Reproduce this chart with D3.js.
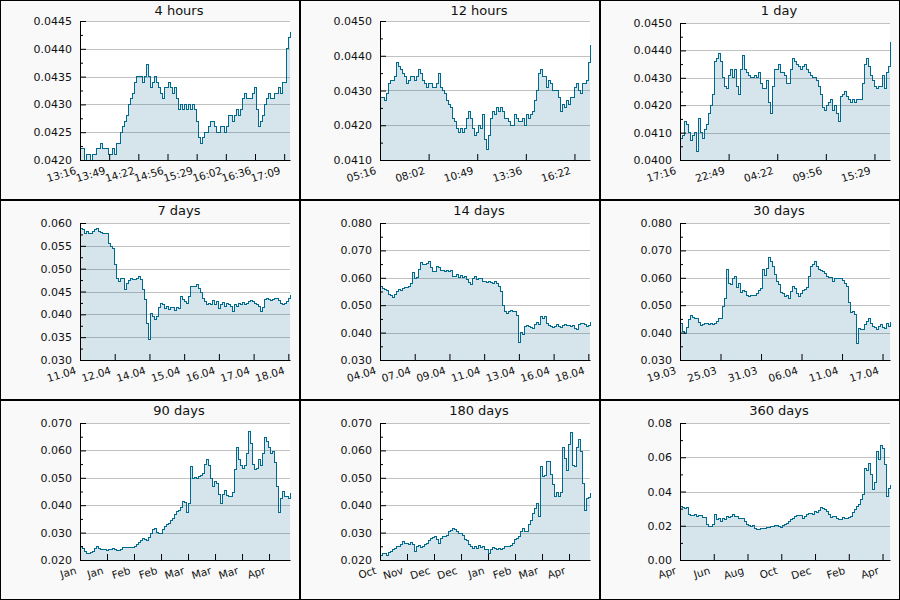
<!DOCTYPE html>
<html><head><meta charset="utf-8">
<script src="https://cdn.jsdelivr.net/npm/d3@7"></script>
<style>
body{margin:0;background:#fff}
svg{display:block}
text{font-family:"DejaVu Sans",sans-serif;fill:#111}
</style>
</head><body>
<svg id="chart" width="900" height="600"></svg>
<script>
const titles = ["4 hours","12 hours","1 day","7 days","14 days","30 days","90 days","180 days","360 days"];
const spanSeconds = [14400, 43200, 86400, 604800, 1209600, 2592000, 7776000, 15552000, 31104000];
const tickStepSeconds = [2000, 10000, 20000, 100000, 200000, 500000, 1000000, 2000000, 5000000];
const xTickLabels = [
 ["13:16","13:49","14:22","14:56","15:29","16:02","16:36","17:09"],
 ["05:16","08:02","10:49","13:36","16:22"],
 ["17:16","22:49","04:22","09:56","15:29"],
 ["11.04","12.04","14.04","15.04","16.04","17.04","18.04"],
 ["04.04","07.04","09.04","11.04","13.04","16.04","18.04"],
 ["19.03","25.03","31.03","06.04","11.04","17.04"],
 ["Jan","Jan","Feb","Feb","Mar","Mar","Mar","Apr"],
 ["Oct","Nov","Dec","Dec","Jan","Feb","Mar","Apr"],
 ["Apr","Jun","Aug","Oct","Dec","Feb","Apr"]
];
const yMin = [0.0420,0.0410,0.0400,0.030,0.030,0.030,0.020,0.020,0.00];
const yMax = [0.0445,0.0450,0.0450,0.060,0.080,0.080,0.070,0.070,0.08];
const yStep = [0.0005,0.001,0.001,0.005,0.010,0.010,0.010,0.010,0.02];
const yDecimals = [4,4,4,3,3,3,3,3,2];

const s4h = [0.0422,0.0422,0.0420,0.0421,0.0421,0.0420,0.0421,0.0421,0.0422,0.0422,
0.0423,0.0422,0.0422,0.0422,0.0421,0.0421,0.0422,0.0421,0.0423,0.0423,
0.0425,0.0426,0.0427,0.0428,0.0430,0.0431,0.0432,0.0434,0.0435,0.0435,
0.0435,0.0434,0.0435,0.04372,0.0435,0.0433,0.0434,0.0435,0.0434,0.0433,
0.0432,0.0431,0.0433,0.0433,0.0434,0.0433,0.0432,0.0433,0.0431,0.0429,
0.0430,0.0429,0.0430,0.0429,0.0430,0.0429,0.0430,0.0429,0.0427,0.0424,
0.0423,0.0424,0.0425,0.0425,0.0426,0.0427,0.0427,0.0426,0.0425,0.0425,
0.0426,0.0426,0.0425,0.0426,0.0428,0.0428,0.0427,0.0428,0.0429,0.0428,
0.0429,0.0431,0.0432,0.0431,0.0431,0.0431,0.0432,0.0433,0.0429,0.0426,
0.0427,0.0428,0.0430,0.0431,0.0432,0.0431,0.0431,0.0432,0.0432,0.0433,
0.0432,0.0434,0.0434,0.0440,0.0442,0.0443];

const s12h = [0.0428,0.0428,0.0427,0.0429,0.0432,0.0433,0.0433,0.0434,0.0438,0.0437,
0.0436,0.0435,0.0434,0.0432,0.0433,0.0434,0.0434,0.0433,0.0434,0.0436,
0.0435,0.0433,0.0432,0.0431,0.0432,0.0432,0.0431,0.0431,0.0432,0.0435,
0.0431,0.0430,0.0429,0.0427,0.0426,0.0425,0.0422,0.0421,0.0419,0.0418,
0.0419,0.0418,0.0419,0.0422,0.0424,0.0422,0.0419,0.0417,0.0418,0.0420,
0.0419,0.0423,0.0416,0.0413,0.0417,0.0422,0.0424,0.0423,0.0425,0.0424,
0.0425,0.0424,0.0422,0.0422,0.0421,0.0420,0.0420,0.0423,0.0422,0.0421,
0.0421,0.0422,0.0420,0.0423,0.0422,0.0423,0.0424,0.0427,0.0430,0.0435,
0.0436,0.0434,0.0434,0.0431,0.0433,0.0432,0.0430,0.0430,0.0430,0.0428,
0.0424,0.0426,0.0425,0.0427,0.0426,0.0428,0.0428,0.0431,0.0432,0.0430,
0.0429,0.0432,0.0432,0.0433,0.0438,0.0443];

const s1d = [0.0408,0.0409,0.0414,0.0413,0.0410,0.0407,0.0409,0.0410,0.0403,0.0415,
0.0410,0.0408,0.0411,0.0413,0.0417,0.0420,0.0424,0.0436,0.0437,0.0439,
0.0436,0.0430,0.0427,0.0426,0.0431,0.0433,0.0430,0.0433,0.0427,0.0424,
0.0433,0.0438,0.0433,0.0432,0.0431,0.0430,0.0430,0.0431,0.0430,0.0432,
0.0428,0.0426,0.0426,0.0429,0.0421,0.0417,0.0427,0.0433,0.0433,0.0435,
0.0432,0.0432,0.0431,0.0428,0.0428,0.0433,0.0437,0.0436,0.0435,0.0434,
0.0433,0.0434,0.0435,0.0433,0.0432,0.0431,0.0430,0.0430,0.0429,0.0427,
0.0424,0.0419,0.0418,0.0420,0.0421,0.0422,0.0418,0.0420,0.0417,0.0414,
0.0423,0.0424,0.0425,0.0423,0.0422,0.0421,0.0422,0.0421,0.0422,0.0422,
0.0422,0.0428,0.0435,0.0437,0.0434,0.0431,0.0429,0.0427,0.0426,0.0427,
0.0427,0.0431,0.0426,0.0432,0.0434,0.0443];

const s7d = [0.0587,0.0585,0.0578,0.0581,0.0578,0.0578,0.0581,0.0585,0.0587,0.0582,
0.0579,0.0577,0.0578,0.0578,0.0556,0.0549,0.0545,0.0510,0.0479,0.0472,
0.0478,0.0479,0.0454,0.0468,0.0474,0.0478,0.0477,0.0476,0.0479,0.0482,
0.0476,0.0455,0.0432,0.0380,0.0345,0.0402,0.0396,0.0388,0.0395,0.0415,
0.0424,0.0422,0.0413,0.0417,0.0410,0.0416,0.0416,0.0409,0.0416,0.0412,
0.0439,0.0432,0.0428,0.0424,0.0440,0.0460,0.0460,0.0461,0.0465,0.0457,
0.0448,0.0434,0.0428,0.0421,0.0424,0.0421,0.0430,0.0421,0.0428,0.0413,
0.0421,0.0426,0.0417,0.0424,0.0421,0.0417,0.0406,0.0421,0.0417,0.0424,
0.0421,0.0426,0.0421,0.0424,0.0428,0.0430,0.0428,0.0424,0.0421,0.0418,
0.0406,0.0415,0.0432,0.0435,0.0432,0.0430,0.0432,0.0435,0.0435,0.0430,
0.0424,0.0421,0.0424,0.0428,0.0435,0.0443];

const s14d = [0.0568,0.0560,0.0559,0.0554,0.0538,0.0535,0.0527,0.0538,0.0549,0.0557,
0.0555,0.0561,0.0565,0.0566,0.0570,0.0578,0.0620,0.0596,0.0602,0.0630,
0.0655,0.0648,0.0650,0.0654,0.0658,0.0637,0.0624,0.0623,0.0641,0.0638,
0.0628,0.0627,0.0623,0.0627,0.0624,0.0625,0.0606,0.0604,0.0611,0.0600,
0.0608,0.0600,0.0604,0.0592,0.0584,0.0574,0.0598,0.0604,0.0595,0.0599,
0.0596,0.0588,0.0587,0.0583,0.0585,0.0584,0.0581,0.0587,0.0580,0.0570,
0.0550,0.0500,0.0477,0.0470,0.0477,0.0480,0.0477,0.0478,0.0461,0.0365,
0.0400,0.0392,0.0422,0.0427,0.0422,0.0420,0.0416,0.0428,0.0438,0.0430,
0.0459,0.0453,0.0459,0.0434,0.0426,0.0422,0.0418,0.0422,0.0428,0.0424,
0.0418,0.0425,0.0428,0.0425,0.0427,0.0424,0.0426,0.0416,0.0413,0.0429,
0.0432,0.0432,0.0428,0.0422,0.0425,0.0440];

const s30d = [0.0434,0.0405,0.0398,0.0420,0.0446,0.0462,0.0456,0.0452,0.0450,0.0438,
0.0425,0.0428,0.0434,0.0433,0.0431,0.0432,0.0429,0.0434,0.0440,0.0452,
0.0453,0.0495,0.0525,0.0629,0.0578,0.0575,0.0599,0.0605,0.0565,0.0580,
0.0546,0.0554,0.0550,0.0537,0.0533,0.0536,0.0535,0.0537,0.0543,0.0552,
0.0560,0.0630,0.0608,0.0635,0.0675,0.0658,0.0640,0.0611,0.0586,0.0577,
0.0545,0.0543,0.0532,0.0537,0.0524,0.0550,0.0567,0.0562,0.0543,0.0530,
0.0542,0.0552,0.0556,0.0566,0.0605,0.0640,0.0650,0.0660,0.0640,0.0632,
0.0628,0.0624,0.0615,0.0604,0.0600,0.0600,0.0588,0.0599,0.0598,0.0596,
0.0598,0.0590,0.0580,0.0570,0.0510,0.0472,0.0477,0.0465,0.0360,0.0416,
0.0413,0.0410,0.0428,0.0440,0.0450,0.0432,0.0421,0.0420,0.0411,0.0422,
0.0428,0.0420,0.0415,0.0432,0.0422,0.0440];

const s90d = [0.0249,0.0242,0.0230,0.0222,0.0225,0.0228,0.0230,0.0243,0.0249,0.0242,
0.0240,0.0240,0.0237,0.0235,0.0237,0.0237,0.0242,0.0237,0.0234,0.0236,
0.0240,0.0244,0.0245,0.0246,0.0246,0.0247,0.0246,0.0249,0.0255,0.0263,
0.0270,0.0279,0.0275,0.0272,0.0283,0.0295,0.0310,0.0316,0.0300,0.0296,
0.0295,0.0310,0.0322,0.0328,0.0335,0.0345,0.0352,0.0365,0.0377,0.0380,
0.0390,0.0413,0.0410,0.0375,0.0407,0.0541,0.0499,0.0500,0.0497,0.0505,
0.0510,0.0515,0.0548,0.0566,0.0545,0.0497,0.0470,0.0487,0.0478,0.0440,
0.0407,0.0440,0.0452,0.0434,0.0432,0.0432,0.0445,0.0529,0.0610,0.0566,
0.0545,0.0535,0.0546,0.0590,0.0670,0.0625,0.0550,0.0529,0.0535,0.0568,
0.0545,0.0590,0.0648,0.0633,0.0610,0.0590,0.0597,0.0555,0.0470,0.0375,
0.0425,0.0450,0.0430,0.0433,0.0425,0.0444];

const s180d = [0.0218,0.0224,0.0222,0.0218,0.0226,0.0232,0.0240,0.0243,0.0249,0.0249,
0.0256,0.0267,0.0261,0.0261,0.0255,0.0264,0.0258,0.0230,0.0249,0.0252,
0.0245,0.0249,0.0255,0.0261,0.0270,0.0280,0.0282,0.0285,0.0273,0.0262,
0.0280,0.0285,0.0285,0.0291,0.0304,0.0307,0.0316,0.0310,0.0304,0.0295,
0.0296,0.0291,0.0273,0.0270,0.0255,0.0250,0.0243,0.0249,0.0243,0.0252,
0.0245,0.0249,0.0237,0.0240,0.0222,0.0240,0.0246,0.0243,0.0237,0.0243,
0.0237,0.0243,0.0249,0.0249,0.0249,0.0252,0.0260,0.0273,0.0279,0.0287,
0.0305,0.0316,0.0304,0.0305,0.0328,0.0345,0.0370,0.0389,0.0407,0.0359,
0.0541,0.0505,0.0510,0.0560,0.0560,0.0512,0.0475,0.0430,0.0446,0.0430,
0.0445,0.0610,0.0570,0.0525,0.0620,0.0665,0.0545,0.0541,0.0610,0.0640,
0.0595,0.0480,0.0380,0.0426,0.0428,0.0444];

const s360d = [0.0312,0.0308,0.0302,0.0305,0.0265,0.0260,0.0258,0.0263,0.0254,0.0258,
0.0260,0.0246,0.0250,0.0210,0.0197,0.0195,0.0205,0.0263,0.0234,0.0240,
0.0226,0.0244,0.0234,0.0252,0.0250,0.0256,0.0263,0.0254,0.0254,0.0244,
0.0244,0.0240,0.0224,0.0205,0.0200,0.0198,0.0200,0.0185,0.0176,0.0180,
0.0185,0.0185,0.0185,0.0190,0.0190,0.0197,0.0195,0.0200,0.0200,0.0195,
0.0192,0.0203,0.0210,0.0215,0.0224,0.0234,0.0244,0.0254,0.0258,0.0260,
0.0260,0.0244,0.0254,0.0263,0.0273,0.0273,0.0265,0.0283,0.0280,0.0290,
0.0305,0.0302,0.0293,0.0283,0.0265,0.0247,0.0254,0.0254,0.0244,0.0238,
0.0234,0.0250,0.0244,0.0244,0.0250,0.0256,0.0280,0.0293,0.0312,0.0322,
0.0355,0.0385,0.0537,0.0520,0.0566,0.0500,0.0410,0.0450,0.0634,0.0585,
0.0670,0.0654,0.0560,0.0371,0.0420,0.0439];

const seriesList = [s4h, s12h, s1d, s7d, s14d, s30d, s90d, s180d, s360d];

const PW = 300, PH = 200;
const plotLeft = 80, plotRight = 290, plotBottom = 160;
const plotTops = [21, 21, 23, 23, 23, 23, 23, 23, 23];
const lineColor = "#006a8e";
const fillColor = "rgba(0,95,135,0.16)";
const gridColor = "#c2c2c2";

const svg = d3.select("#chart");

titles.forEach((title, p) => {
  const col = p % 3, row = Math.floor(p / 3);
  const g = svg.append("g").attr("transform", `translate(${col * PW},${row * PH})`);
  const top = plotTops[p];

  g.append("rect").attr("x", 0.5).attr("y", 0.5).attr("width", PW - 1).attr("height", PH - 1)
    .attr("fill", "#f9f9f9").attr("stroke", "#000").attr("stroke-width", 1);

  g.append("rect").attr("x", plotLeft).attr("y", top).attr("width", plotRight - plotLeft).attr("height", plotBottom - top)
    .attr("fill", "#fff");

  const x = d3.scaleLinear().domain([0, spanSeconds[p]]).range([plotLeft, plotRight]);
  const y = d3.scaleLinear().domain([yMin[p], yMax[p]]).range([plotBottom, top]);

  const nMajor = Math.round((yMax[p] - yMin[p]) / yStep[p]);
  const majors = d3.range(nMajor + 1).map(i => yMin[p] + i * yStep[p]);
  const minors = d3.range(nMajor).map(i => yMin[p] + (i + 0.5) * yStep[p]);

  g.append("g").selectAll("line").data(majors.slice(1)).join("line")
    .attr("x1", plotLeft).attr("x2", plotRight)
    .attr("y1", d => Math.round(y(d)) + 0.5).attr("y2", d => Math.round(y(d)) + 0.5)
    .attr("stroke", gridColor).attr("stroke-width", 1);

  const vals = seriesList[p];
  const n = vals.length;
  const data = vals.map((v, i) => ({t: i / (n - 1) * spanSeconds[p], v}));

  const area = d3.area().curve(d3.curveStepAfter)
    .x(d => x(d.t)).y0(plotBottom).y1(d => y(Math.max(d.v, yMin[p])));
  const line = d3.line().curve(d3.curveStepAfter)
    .x(d => x(d.t)).y(d => y(Math.max(d.v, yMin[p])));

  g.append("path").datum(data).attr("d", area).attr("fill", fillColor);
  g.append("path").datum(data).attr("d", line).attr("fill", "none")
    .attr("stroke", lineColor).attr("stroke-width", 1).attr("shape-rendering", "crispEdges");

  const yAxis = d3.axisLeft(y).tickValues(majors).tickSizeInner(-6).tickSizeOuter(0).tickPadding(8)
    .tickFormat(d => d.toFixed(yDecimals[p]));
  const ya = g.append("g").attr("transform", `translate(${plotLeft},0)`).call(yAxis);
  ya.selectAll("text").attr("font-size", 11).attr("font-family", "DejaVu Sans").attr("fill", "#111");
  const yMinor = d3.axisLeft(y).tickValues(minors).tickSizeInner(-3).tickSizeOuter(0).tickFormat("");
  const ym = g.append("g").attr("transform", `translate(${plotLeft},0)`).call(yMinor);
  ym.select(".domain").remove();

  const nT = xTickLabels[p].length;
  const xTicks = d3.range(nT).map(i => i * tickStepSeconds[p]);
  const xAxis = d3.axisBottom(x).tickValues(xTicks).tickSizeInner(-6).tickSizeOuter(0)
    .tickFormat((d, i) => xTickLabels[p][i]);
  const xa = g.append("g").attr("transform", `translate(0,${plotBottom})`).call(xAxis);
  xa.selectAll("text")
    .attr("font-size", 10.5).attr("font-family", "DejaVu Sans").attr("fill", "#111")
    .attr("text-anchor", "end").attr("x", 0).attr("y", 0).attr("dy", 0)
    .attr("transform", "translate(-3.5,13.5) rotate(-17)");

  g.append("text").attr("x", 179).attr("y", 15).attr("text-anchor", "middle")
    .attr("font-size", 13).text(title);
});
</script>
</body></html>
